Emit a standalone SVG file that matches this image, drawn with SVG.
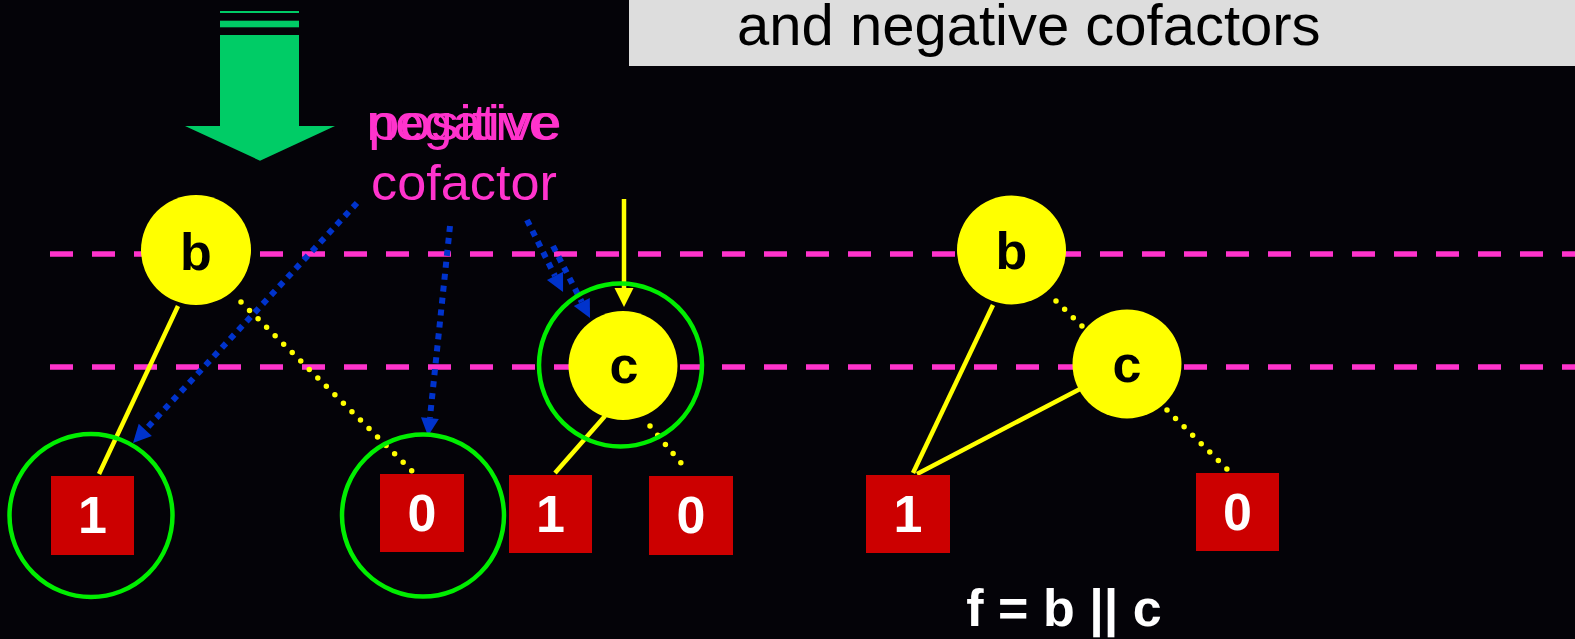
<svg xmlns="http://www.w3.org/2000/svg" width="1575" height="639" viewBox="0 0 1575 639">
<defs>
<style>
.bg{fill:#040308}
.var{fill:#ffff00}
.vlab{font-family:"Liberation Sans",Arial,sans-serif;font-weight:bold;font-size:52px;fill:#000;text-anchor:middle}
.term{fill:#cc0000}
.tlab{font-family:"Liberation Sans",Arial,sans-serif;font-weight:bold;font-size:52px;fill:#fff;text-anchor:middle}
.ring{fill:none;stroke:#00ee00;stroke-width:4.5}
.dash{stroke:#ff33cc;stroke-width:5.5;stroke-dasharray:23 19;fill:none}
.solid{stroke:#ffff00;stroke-width:4.5;fill:none}
.dot{stroke:#ffff00;stroke-width:5.5;stroke-dasharray:0 12;stroke-linecap:round;fill:none}
.blue{stroke:#0033cc;stroke-width:6;stroke-dasharray:6 6;fill:none;marker-end:url(#bh)}
.pink{font-family:"Liberation Sans",Arial,sans-serif;font-size:50px;fill:#ff33cc;text-anchor:middle}
</style>
<marker id="bh" viewBox="0 0 18 18" refX="0" refY="9" markerWidth="18" markerHeight="18" markerUnits="userSpaceOnUse" orient="auto" overflow="visible">
<path d="M0,0 L18,9 L0,18 z" fill="#0033cc"/>
</marker>
</defs>
<rect class="bg" x="0" y="0" width="1575" height="639"/>
<g id="title">
<rect x="629" y="0" width="946" height="66" fill="#dddddd"/>
<text x="737" y="45" font-family="'Liberation Sans',Arial,sans-serif" font-size="58" fill="#000">and negative cofactors</text>
</g>
<g id="green-arrow" fill="#00cc66">
<rect x="220" y="11" width="79" height="2"/>
<rect x="220" y="20.7" width="79" height="6.6"/>
<polygon points="220,35 299,35 299,126 335,126 260,160.7 185,126 220,126"/>
</g>
<g id="levels">
<line class="dash" x1="50" y1="254" x2="1575" y2="254"/>
<line class="dash" x1="50" y1="367" x2="1575" y2="367"/>
</g>
<g id="cofactor-label">
<text class="pink" x="464" y="140" textLength="192" lengthAdjust="spacingAndGlyphs">positive</text>
<text class="pink" x="464" y="140" textLength="195" lengthAdjust="spacingAndGlyphs">negative</text>
<text class="pink" x="464" y="200" textLength="186" lengthAdjust="spacingAndGlyphs">cofactor</text>
</g>
<g id="connectors">
<line class="solid" x1="178" y1="306" x2="99" y2="474"/>
<line class="dot" x1="241" y1="302" x2="413" y2="472"/>
<line class="solid" x1="605" y1="416" x2="555" y2="473"/>
<line class="dot" x1="650" y1="426" x2="681" y2="463"/>
<line class="solid" x1="993" y1="305" x2="913" y2="473"/>
<line class="solid" x1="1080" y1="389" x2="917" y2="474"/>
<line class="dot" x1="1056" y1="301" x2="1083" y2="327"/>
<line class="dot" x1="1167" y1="410" x2="1228" y2="470"/>
<line class="solid" x1="624" y1="199" x2="624" y2="290"/>
<polygon points="614.5,288 633.5,288 624,307" fill="#ffff00"/>
<path class="blue" d="M357,203 L145.3,429.8"/>
<path class="blue" d="M450,226 L429.9,418.1"/>
<path class="blue" d="M527,220 L555,275.9"/>
<path class="blue" d="M553,246 L581.8,302"/>
</g>
<g id="node-b1">
<circle class="var" cx="196" cy="250" r="55"/>
<text class="vlab" x="196" y="270">b</text>
</g>
<g id="node-c1">
<circle class="ring" cx="620.5" cy="365" r="81.5"/>
<circle class="var" cx="623" cy="365.5" r="54.5"/>
<text class="vlab" x="624" y="383">c</text>
</g>
<g id="term-1a">
<circle class="ring" cx="91" cy="515.5" r="81.5"/>
<rect class="term" x="51" y="476" width="83" height="79"/>
<text class="tlab" x="92.5" y="533">1</text>
</g>
<g id="term-0a">
<circle class="ring" cx="423" cy="515.5" r="81"/>
<rect class="term" x="380" y="474" width="84" height="78"/>
<text class="tlab" x="422" y="531">0</text>
</g>
<g id="term-1b">
<rect class="term" x="509" y="475" width="83" height="78"/>
<text class="tlab" x="550.5" y="532">1</text>
</g>
<g id="term-0b">
<rect class="term" x="649" y="476" width="84" height="79"/>
<text class="tlab" x="691" y="533">0</text>
</g>
<g id="node-b2">
<circle class="var" cx="1011.5" cy="250" r="54.5"/>
<text class="vlab" x="1011.5" y="269">b</text>
</g>
<g id="node-c2">
<circle class="var" cx="1127" cy="364" r="54.5"/>
<text class="vlab" x="1127" y="382">c</text>
</g>
<g id="term-1c">
<rect class="term" x="866" y="475" width="84" height="78"/>
<text class="tlab" x="908" y="532">1</text>
</g>
<g id="term-0c">
<rect class="term" x="1196" y="473" width="83" height="78"/>
<text class="tlab" x="1237.5" y="530">0</text>
</g>
<g id="formula">
<text x="1064" y="626" font-family="'Liberation Sans',Arial,sans-serif" font-weight="bold" font-size="52" fill="#fff" text-anchor="middle">f = b || c</text>
</g>
</svg>
